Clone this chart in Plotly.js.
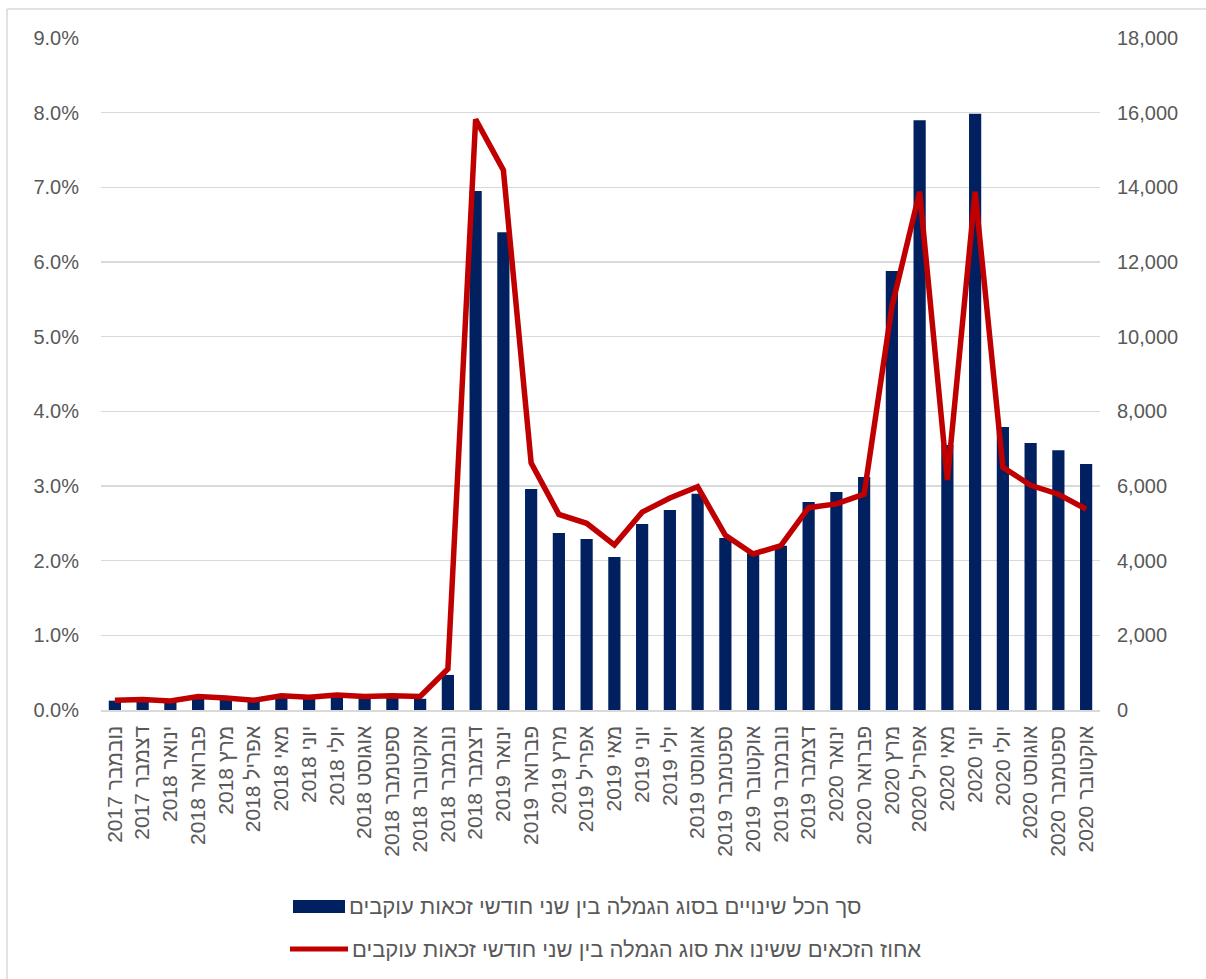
<!DOCTYPE html>
<html>
<head>
<meta charset="utf-8">
<script src="https://cdn.plot.ly/plotly-3.0.1.min.js"></script>
<style>
html,body{margin:0;padding:0;background:#fff;}
#chart{width:1206px;height:979px;}
</style>
</head>
<body>
<div id="chart"></div>
<script>
var months = ["נובמבר 2017","דצמבר 2017","ינואר 2018","פברואר 2018","מרץ 2018","אפריל 2018","מאי 2018","יוני 2018","יולי 2018","אוגוסט 2018","ספטמבר 2018","אוקטובר 2018","נובמבר 2018","דצמבר 2018","ינואר 2019","פברואר 2019","מרץ 2019","אפריל 2019","מאי 2019","יוני 2019","יולי 2019","אוגוסט 2019","ספטמבר 2019","אוקטובר 2019","נובמבר 2019","דצמבר 2019","ינואר 2020","פברואר 2020","מרץ 2020","אפריל 2020","מאי 2020","יוני 2020","יולי 2020","אוגוסט 2020","ספטמבר 2020","אוקטובר 2020"];

var totalChanges = [250,250,250,300,300,280,330,300,350,320,330,300,940,13900,12800,5920,4740,4580,4100,4980,5360,5790,4610,4200,4400,5570,5840,6240,11760,15800,7100,15970,7580,7150,6960,6590];

var pctChanged = [0.13,0.14,0.12,0.18,0.16,0.13,0.19,0.17,0.20,0.18,0.19,0.18,0.55,7.91,7.23,3.31,2.62,2.50,2.21,2.65,2.84,2.99,2.34,2.09,2.20,2.71,2.76,2.89,5.40,6.94,3.08,6.94,3.25,3.01,2.89,2.69];

var barName = "סך הכל שינויים בסוג הגמלה בין שני חודשי זכאות עוקבים";
var lineName = "אחוז הזכאים ששינו את סוג הגמלה בין שני חודשי זכאות עוקבים";

var leftTicks = [0,1,2,3,4,5,6,7,8,9];
var leftTickText = ["0.0%","1.0%","2.0%","3.0%","4.0%","5.0%","6.0%","7.0%","8.0%","9.0%"];
var rightTicks = [0,2000,4000,6000,8000,10000,12000,14000,16000,18000];
var rightTickText = ["0","2,000","4,000","6,000","8,000","10,000","12,000","14,000","16,000","18,000"];

var FONT = "Liberation Sans, Arial, sans-serif";
var GRAY = "#595959";
var W = 1206, H = 979;
var L = 101, R = 1100, T = 38, B = 710;
function px(x){ return (x - L)/(R - L); }
function py(y){ return (B - y)/(B - T); }

var traces = [
  {type:"bar", x:months, y:totalChanges, name:barName, yaxis:"y",
   marker:{color:"#002060"}, showlegend:false, hoverinfo:"x+y"},
  {type:"scatter", mode:"lines", x:months, y:pctChanged, name:lineName, yaxis:"y2",
   line:{color:"#c00000", width:5.5, shape:"linear"}, showlegend:false}
];

var layout = {
  width:W, height:H,
  margin:{l:L, r:W-R, t:T, b:H-B, pad:0},
  paper_bgcolor:"#fff", plot_bgcolor:"#fff",
  font:{family:FONT, size:18, color:GRAY},
  bargap:0.56,
  xaxis:{type:"category", tickangle:-90, showgrid:false, showline:true, linecolor:"#d9d9d9", linewidth:1.5,
         ticks:"", tickfont:{size:21, color:GRAY}, ticklabelstandoff:6, range:[-0.5,35.5]},
  yaxis:{side:"right", range:[0,18000], tickmode:"array", tickvals:rightTicks, ticktext:rightTickText, showgrid:true, gridcolor:"#d9d9d9",
         gridwidth:1.5, zeroline:false, ticks:"", showline:false, ticklabelstandoff:16, tickfont:{size:20, color:GRAY}},
  yaxis2:{side:"left", overlaying:"y", range:[0,9], tickmode:"array", tickvals:leftTicks, ticktext:leftTickText,
          showgrid:false, zeroline:false, ticks:"", showline:false, ticklabelstandoff:21, tickfont:{size:20, color:GRAY}},
  shapes:[
    {type:"line", xref:"paper", yref:"paper", x0:px(7), x1:px(1210), y0:py(9), y1:py(9), line:{color:"#d9d9d9", width:1.5}},
    {type:"line", xref:"paper", yref:"paper", x0:px(7), x1:px(7), y0:py(9), y1:py(985), line:{color:"#d9d9d9", width:1.5}},
    {type:"rect", xref:"paper", yref:"paper", x0:px(293), x1:px(345), y0:py(900), y1:py(913), fillcolor:"#002060", line:{width:0}},
    {type:"line", xref:"paper", yref:"paper", x0:px(290), x1:px(348), y0:py(949), y1:py(949), line:{color:"#c00000", width:5}}
  ],
  annotations:[
    {xref:"paper", yref:"paper", x:px(347), y:py(906), xanchor:"left", yanchor:"middle", showarrow:false,
     text:barName, font:{size:22, color:GRAY, family:FONT}},
    {xref:"paper", yref:"paper", x:px(350), y:py(949), xanchor:"left", yanchor:"middle", showarrow:false,
     text:lineName, font:{size:22, color:GRAY, family:FONT}}
  ]
};

Plotly.newPlot("chart", traces, layout, {displayModeBar:false, staticPlot:true});
</script>
</body>
</html>
